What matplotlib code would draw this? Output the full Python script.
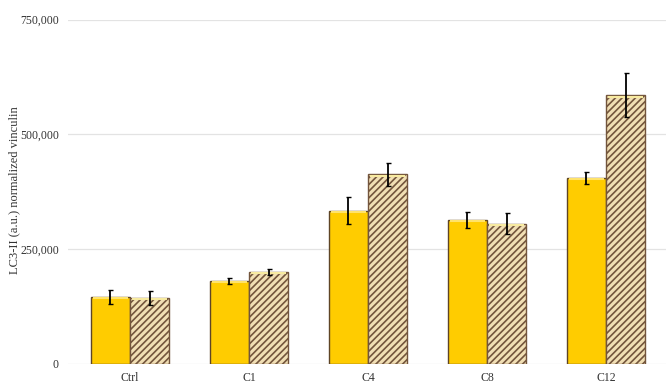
import numpy as np
import matplotlib

matplotlib.use("Agg")
import matplotlib.pyplot as plt
from matplotlib.ticker import FuncFormatter

# LC3-II levels per condition, two series per group
groups = ["Ctrl", "C1", "C4", "C8", "C12"]
solid_vals = [146000, 181000, 334000, 314000, 405000]
solid_err = [16000, 6000, 29000, 17000, 13000]
hatch_vals = [144000, 200000, 413000, 306000, 585000]
hatch_err = [15000, 6000, 25000, 22000, 48000]

plt.rcParams["font.family"] = ["Liberation Serif", "DejaVu Serif"]
plt.rcParams["hatch.linewidth"] = 1.2

fig = plt.figure(figsize=(6.66, 3.85), dpi=100)
ax = fig.add_axes([68 / 666, 21 / 385, 600 / 666, 344.3 / 385])

x = np.arange(len(groups))
w = 0.33
edge = "#5e4526"

ax.bar(x - w / 2, solid_vals, w, color="#FFCC00", edgecolor=edge,
       linewidth=1.0, zorder=3)
ax.bar(x + w / 2, hatch_vals, w, color="#f1dfb4", edgecolor="#73553c",
       hatch="/////", linewidth=1.0, zorder=3)

# light band along the top of each bar
ax.hlines(np.array(solid_vals) - 2500, x - w + 0.02, x - 0.02,
          color="#ffe36a", linewidth=1.5, zorder=4)
ax.hlines(np.array(hatch_vals) - 2500, x + 0.02, x + w - 0.02,
          color="#f7eaa0", linewidth=1.5, zorder=4)

ax.errorbar(x - w / 2, solid_vals, yerr=solid_err, fmt="none", ecolor="black",
            elinewidth=1.3, capsize=1.8, capthick=1.0, zorder=5)
ax.errorbar(x + w / 2, hatch_vals, yerr=hatch_err, fmt="none", ecolor="black",
            elinewidth=1.3, capsize=1.8, capthick=1.0, zorder=5)

ax.set_xlim(-0.52, 4.52)
ax.set_ylim(0, 750000)
ax.set_yticks([0, 250000, 500000, 750000])
ax.yaxis.set_major_formatter(FuncFormatter(lambda v, p: f"{int(v):,}"))
ax.set_xticks(x)
ax.set_xticklabels(groups)
ax.grid(axis="y", color="#e3e3e3", linewidth=0.9, zorder=0)
ax.set_axisbelow(True)
for s in ax.spines.values():
    s.set_visible(False)
ax.tick_params(length=0, labelsize=8.5, colors="#333333", pad=6.5)
ax.tick_params(axis="x", pad=5.5)

fig.text(14 / 666, 195 / 385, "LC3-II (a.u.) normalized vinculin",
         rotation=90, ha="center", va="center", fontsize=9, color="#333333")

fig.savefig("out.png", dpi=100)
